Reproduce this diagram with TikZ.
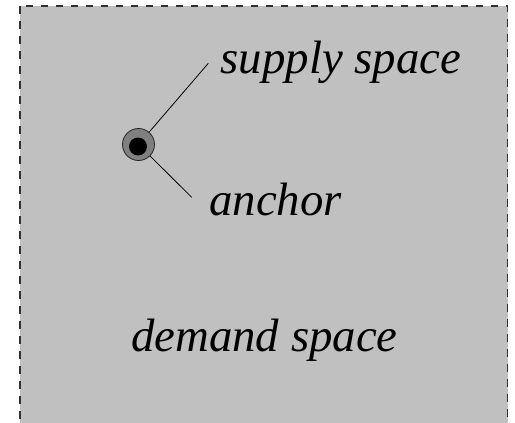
\documentclass[tikz,border=0pt]{standalone}
\usepackage{fontspec}
\setmainfont{Liberation Serif}
\definecolor{areagray}{HTML}{C0C0C0}
\definecolor{ringgray}{HTML}{808080}
\definecolor{edgegray}{HTML}{303030}
\tikzset{
  area/.style={fill=areagray, draw=edgegray, line width=1.2pt, dash pattern=on 7.5pt off 7.5pt},
  ring/.style={circle, fill=ringgray, draw=black!85, line width=0.8pt, minimum size=32pt, inner sep=0pt},
  core/.style={circle, fill=black, minimum size=18pt, inner sep=0pt},
  leader/.style={draw=black, line width=0.8pt},
  label/.style={font=\fontsize{46.8}{56}\selectfont\itshape, inner sep=0pt, anchor=base west}
}
\begin{document}
\begin{tikzpicture}[x=1pt,y=-1pt]
\useasboundingbox (0,0) rectangle (515,423);
\begin{scope}
\clip (0,0) rectangle (515,423);
\path[area] (20,6) rectangle (507.7,440);
\end{scope}
\coordinate (s1) at (208.3,63.3);
\coordinate (a1) at (191.7,197.3);
\node[ring] (anc) at (138.5,144.5) {};
\node[core] (dot) at (138,146.5) {};
\draw[leader] (anc) -- (s1);
\draw[leader] (anc) -- (a1);
\node[label] (supply) at (220.5,73.5) {supply space};
\node[label] (anchortext) at (209,215) {anchor};
\node[label] (demand) at (131,351.7) {demand space};
\end{tikzpicture}
\end{document}
